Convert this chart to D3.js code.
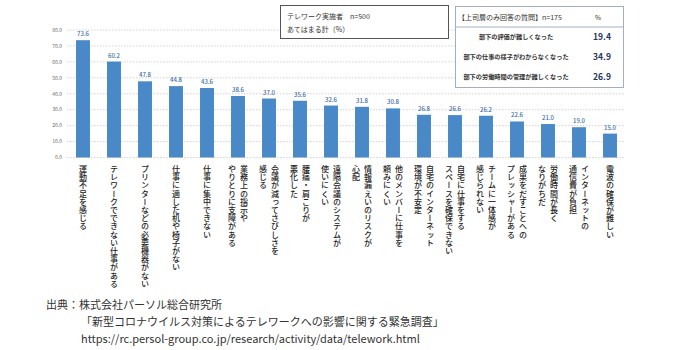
<!DOCTYPE html>
<html>
<head>
<meta charset="utf-8">
<script src="https://cdn.jsdelivr.net/npm/d3@7"></script>
<style>
  body { margin: 0; background: #fff; }
  svg { display: block; font-family: "Noto Sans CJK JP", "Noto Sans", sans-serif; }
</style>
</head>
<body>
<svg id="chart" width="700" height="350"></svg>
<script>
// categories (each entry = lines of the vertical label, first line on the right)
const categories = [
  ['運動不足を感じる'],
  ['テレワークでできない仕事がある'],
  ['プリンターなどの必要機器がない'],
  ['仕事に適した机や椅子がない'],
  ['仕事に集中できない'],
  ['業務上の指示や', 'やりとりに支障がある'],
  ['会議が減ってさびしさを', '感じる'],
  ['腰痛・肩こりが', '悪化した'],
  ['遠隔会議のシステムが', '使いにくい'],
  ['情報漏えいのリスクが', '心配'],
  ['他のメンバーに仕事を', '頼みにくい'],
  ['自宅のインターネット', '環境が不安定'],
  ['自宅に仕事をする', 'スペースを確保できない'],
  ['チームに一体感が', '感じられない'],
  ['成果をだすことへの', 'プレッシャーがある'],
  ['労働時間が長く', 'なりがちだ'],
  ['インターネットの', '通信費が負担'],
  ['電波の確保が難しい']
];
const values = [73.6, 60.2, 47.8, 44.8, 43.6, 38.6, 37.0, 35.6, 32.6, 31.8, 30.8, 26.8, 26.6, 26.2, 22.6, 21.0, 19.0, 15.0];
const yTicks = [0, 10, 20, 30, 40, 50, 60, 70, 80];

// inset table: questions asked only to managers
const bossItems = ['部下の評価が難しくなった', '部下の仕事の様子がわからなくなった', '部下の労働時間の管理が難しくなった'];
const bossValues = [19.4, 34.9, 26.9];

const footLines = [
  '出典：株式会社パーソル総合研究所',
  '「新型コロナウイルス対策によるテレワークへの影響に関する緊急調査」',
  'https://rc.persol-group.co.jp/research/activity/data/telework.html'
];

const svg = d3.select('#chart');
const idx = categories.map((c, i) => i);

const x = d3.scaleBand()
  .domain(idx)
  .range([67.5, 625.5])
  .paddingInner(0.55)
  .paddingOuter(0.275);

const y = d3.scaleLinear()
  .domain([0, 80])
  .range([157.5, 30]);

// gridlines
svg.append('g')
  .selectAll('line')
  .data(yTicks)
  .join('line')
  .attr('x1', 67)
  .attr('x2', 625)
  .attr('y1', d => y(d))
  .attr('y2', d => y(d))
  .attr('stroke', '#c8c8c8')
  .attr('stroke-width', 0.8)
  .attr('stroke-dasharray', '1.5,1.5');

// y tick labels
svg.append('g')
  .selectAll('text')
  .data(yTicks)
  .join('text')
  .attr('x', 62)
  .attr('y', d => y(d))
  .attr('dy', '0.35em')
  .attr('text-anchor', 'end')
  .attr('font-size', 5)
  .attr('fill', '#666')
  .text(d => d.toFixed(1));

// bars
svg.append('g')
  .selectAll('rect')
  .data(idx)
  .join('rect')
  .attr('x', i => x(i))
  .attr('y', i => y(values[i]))
  .attr('width', x.bandwidth())
  .attr('height', i => y(0) - y(values[i]))
  .attr('fill', '#4a89c8');

// value labels
svg.append('g')
  .selectAll('text')
  .data(idx)
  .join('text')
  .attr('x', i => x(i) + x.bandwidth() / 2)
  .attr('y', i => y(values[i]) - 4)
  .attr('text-anchor', 'middle')
  .attr('font-size', 6)
  .attr('font-weight', 500)
  .attr('fill', '#3c6eaa')
  .text(i => values[i].toFixed(1));

// vertical category labels (first line right, next line to its left)
const catG = svg.append('g')
  .attr('font-size', 8)
  .attr('font-weight', 500)
  .attr('fill', '#222');
const lineGap = 12;
idx.forEach(i => {
  const lines = categories[i];
  const cx = x(i) + x.bandwidth() / 2;
  lines.forEach((line, j) => {
    catG.append('text')
      .attr('x', cx + (lines.length - 1) * lineGap / 2 - j * lineGap)
      .attr('y', 165)
      .style('writing-mode', 'vertical-rl')
      .style('letter-spacing', '0.2px')
      .text(line);
  });
});

// legend box: respondents
const box1 = svg.append('g');
box1.append('rect')
  .attr('x', 280.5).attr('y', 5.5)
  .attr('width', 168).attr('height', 33)
  .attr('fill', '#fff')
  .attr('stroke', '#555')
  .attr('stroke-width', 1);
box1.append('text')
  .attr('x', 287).attr('y', 18.5)
  .attr('font-size', 7)
  .attr('fill', '#333')
  .text('テレワーク実施者　n=500');
box1.append('text')
  .attr('x', 287).attr('y', 31.5)
  .attr('font-size', 7)
  .attr('fill', '#333')
  .text('あてはまる計（%）');

// inset table: managers only
const box2 = svg.append('g');
box2.append('rect')
  .attr('x', 455.5).attr('y', 6.5)
  .attr('width', 168).attr('height', 81)
  .attr('fill', '#fff')
  .attr('stroke', '#9fb0c2')
  .attr('stroke-width', 1);
box2.append('line')
  .attr('x1', 455.5).attr('x2', 623.5)
  .attr('y1', 27).attr('y2', 27)
  .attr('stroke', '#9fb0c2')
  .attr('stroke-width', 1);
box2.append('text')
  .attr('x', 458).attr('y', 19.5)
  .attr('font-size', 7)
  .attr('fill', '#333')
  .text('【上司層のみ回答の質問】n=175');
box2.append('text')
  .attr('x', 598).attr('y', 19.5)
  .attr('text-anchor', 'middle')
  .attr('font-size', 6.5)
  .attr('fill', '#333')
  .text('%');

const rowY = d3.scalePoint()
  .domain(d3.range(bossItems.length))
  .range([37, 77]);

box2.selectAll('text.item')
  .data(bossItems)
  .join('text')
  .attr('class', 'item')
  .attr('x', 516)
  .attr('y', (d, i) => rowY(i))
  .attr('dy', '0.35em')
  .attr('text-anchor', 'middle')
  .attr('font-size', 6.2)
  .attr('font-weight', 700)
  .attr('fill', '#333')
  .text(d => d);

box2.selectAll('text.val')
  .data(bossValues)
  .join('text')
  .attr('class', 'val')
  .attr('x', 602)
  .attr('y', (d, i) => rowY(i))
  .attr('dy', '0.35em')
  .attr('text-anchor', 'middle')
  .attr('font-size', 8.5)
  .attr('font-weight', 700)
  .attr('fill', '#24365a')
  .text(d => d.toFixed(1));

// source footer
svg.append('g')
  .selectAll('text')
  .data(footLines)
  .join('text')
  .attr('x', (d, i) => i === 0 ? 46 : 81)
  .attr('y', (d, i) => 309 + i * 17)
  .attr('font-size', 11)
  .attr('fill', '#333')
  .text(d => d);
</script>
</body>
</html>
